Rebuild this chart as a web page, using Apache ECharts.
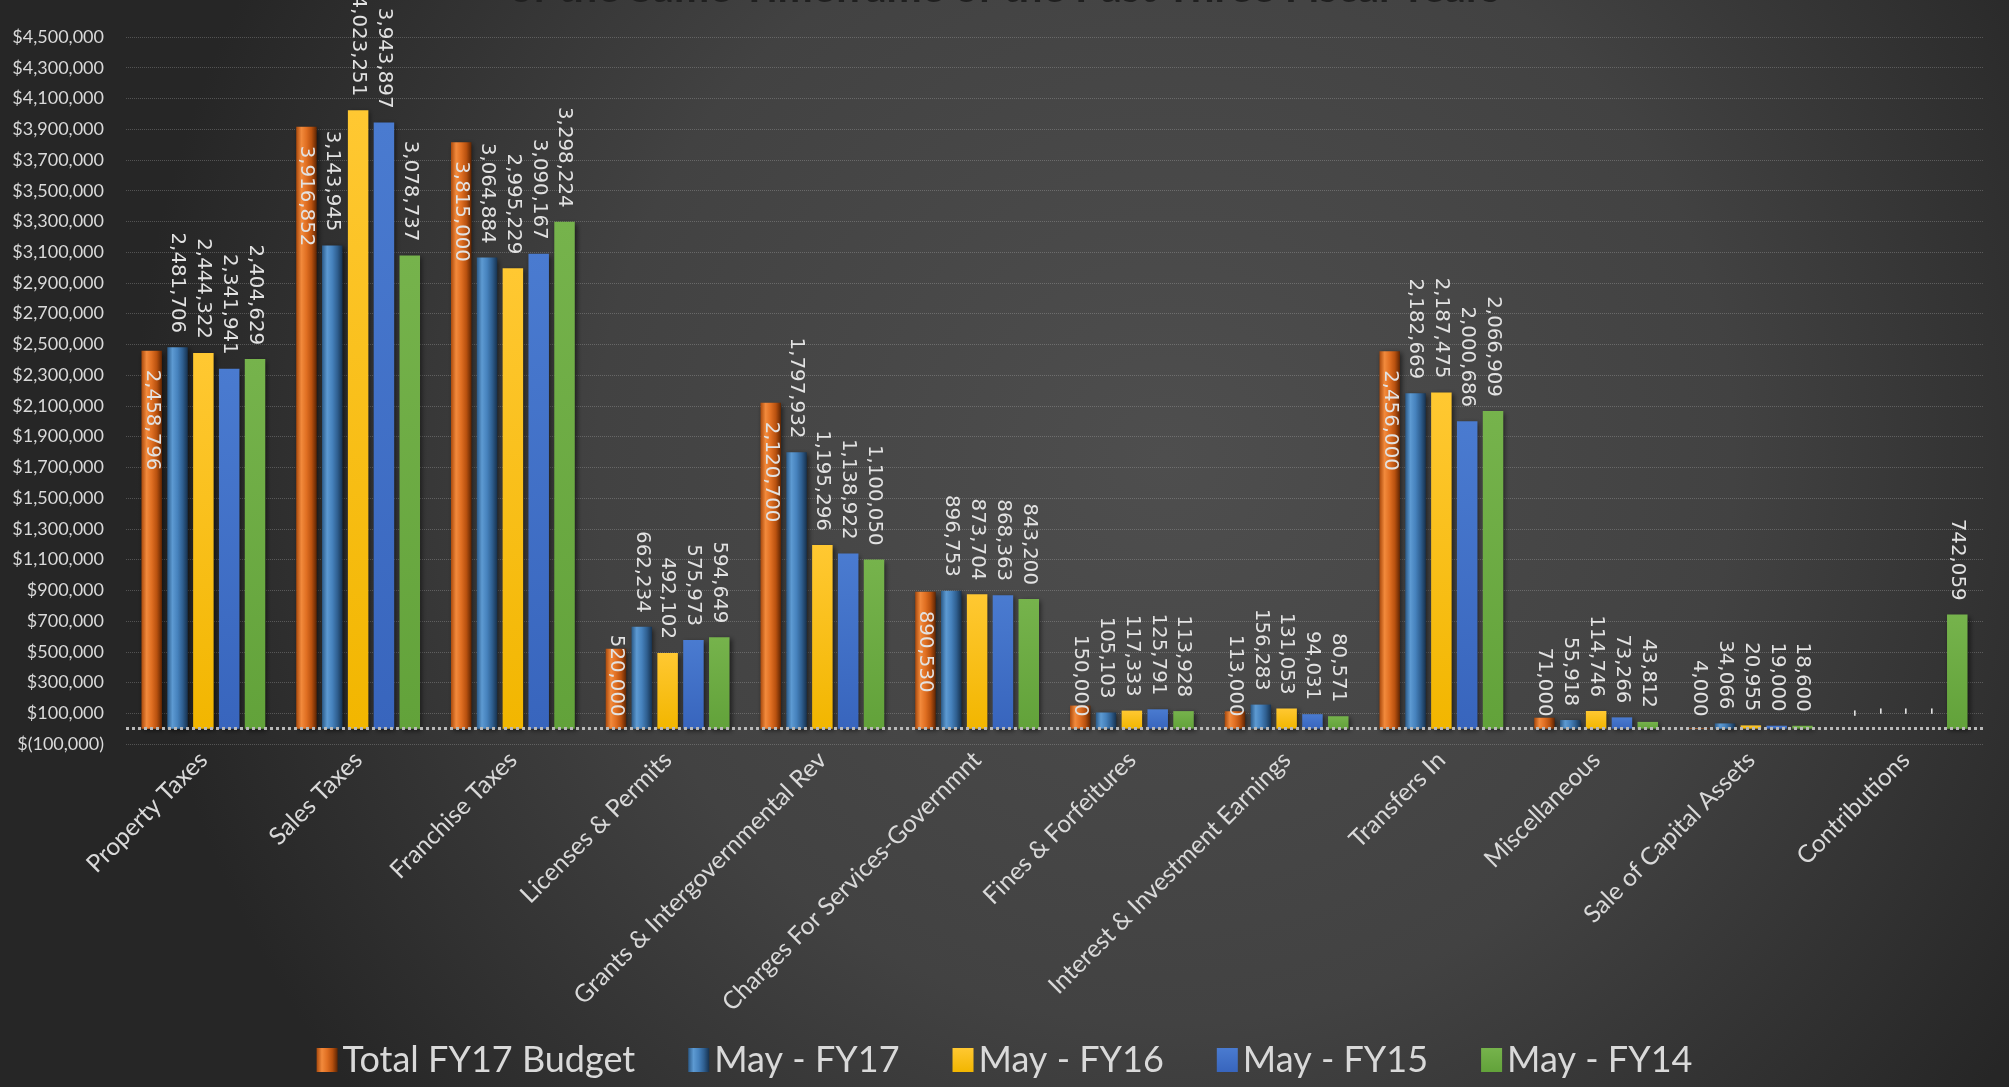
<!DOCTYPE html>
<html>
<head>
<meta charset="utf-8">
<script src="https://cdn.jsdelivr.net/npm/echarts@6/dist/echarts.min.js"></script>
<style>
html,body{margin:0;padding:0;width:2009px;height:1087px;overflow:hidden;background:#333;}
#chart{width:2009px;height:1087px;}
</style>
</head>
<body>
<div id="chart"></div>
<script>
const categories = ['Property Taxes','Sales Taxes','Franchise Taxes','Licenses & Permits','Grants & Intergovernmental Rev','Charges For Services-Governmnt','Fines & Forfeitures','Interest & Investment Earnings','Transfers In','Miscellaneous','Sale of Capital Assets','Contributions'];
const seriesNames = ['Total FY17 Budget','May - FY17','May - FY16','May - FY15','May - FY14'];
const budget = [2458796, 3916852, 3815000, 520000, 2120700, 890530, 150000, 113000, 2456000, 71000, 4000, 0];
const mayFY17 = [2481706, 3143945, 3064884, 662234, 1797932, 896753, 105103, 156283, 2182669, 55918, 34066, 0];
const mayFY16 = [2444322, 4023251, 2995229, 492102, 1195296, 873704, 117333, 131053, 2187475, 114746, 20955, 0];
const mayFY15 = [2341941, 3943897, 3090167, 575973, 1138922, 868363, 125791, 94031, 2000686, 73266, 19000, 0];
const mayFY14 = [2404629, 3078737, 3298224, 594649, 1100050, 843200, 113928, 80571, 2066909, 43812, 18600, 742059];
const yMin = -100000, yMax = 4500000, yStep = 200000;
const titleText = 'of the Same Timeframe of the Past Three Fiscal Years';

function fmtNum(v){ return Math.round(v).toString().replace(/\B(?=(\d{3})+(?!\d))/g, ','); }
function fmtAxis(v){ return v < 0 ? '$(' + fmtNum(-v) + ')' : '$' + fmtNum(v); }
function fmtLabel(p){ return p.value === 0 ? '-' : fmtNum(p.value); }

const labelFont = {fontFamily:'DejaVu Sans', fontSize:19.8, color:'#e2e2e2'};

function hGrad(stops){
  return {type:'linear', x:0, y:0, x2:1, y2:0, colorStops: stops.map((c,i)=>({offset:i/(stops.length-1), color:c}))};
}
function vGrad(a,b){
  return {type:'linear', x:0, y:0, x2:0, y2:1, colorStops:[{offset:0,color:a},{offset:1,color:b}]};
}
const colors = [
  hGrad(['#a9490c','#f28a3c','#e06f22','#b8510f','#5e2503']),
  hGrad(['#2b5a88','#5d9ad2','#4682bd','#2f5f90','#17324f']),
  vGrad('#ffc832','#f2b600'),
  vGrad('#4a7bd0','#3865bd'),
  vGrad('#76b34c','#62a23a')
];

const shadow = {shadowBlur:5, shadowColor:'rgba(0,0,0,0.55)', shadowOffsetX:2, shadowOffsetY:2};

function topLabel(){
  return Object.assign({show:true, position:'top', rotate:-90, align:'right', verticalAlign:'middle', distance:14, formatter:fmtLabel}, labelFont);
}

const budgetData = budget.map(v => ({
  value: v,
  label: v < 700000
    ? {position:'insideBottom', align:'right', verticalAlign:'middle', distance:12}
    : {position:'insideTop', align:'left', verticalAlign:'middle', distance:19}
}));

const dataSets = [budgetData, mayFY17, mayFY16, mayFY15, mayFY14];

const series = dataSets.map((d, i) => {
  const s = {
    name: seriesNames[i],
    type: 'bar',
    data: d,
    barGap: '26%',
    barCategoryGap: '20%',
    itemStyle: Object.assign({color: colors[i]}, shadow),
    label: i === 0
      ? Object.assign({show:true, rotate:-90, formatter:fmtLabel}, labelFont)
      : topLabel()
  };
  if (i === 4) {
    s.markLine = {
      silent: true,
      symbol: ['none','none'],
      label: {show:false},
      lineStyle: {color:'#b8b8b8', width:3, type:'dotted'},
      data: [{yAxis: 0}],
      animation: false
    };
  }
  return s;
});

const chart = echarts.init(document.getElementById('chart'), null, {renderer:'canvas'});
chart.setOption({
  animation: false,
  backgroundColor: {
    type:'radial', x:0.58, y:0.42, r:0.95,
    colorStops:[{offset:0,color:'#4e4e4e'},{offset:0.55,color:'#424242'},{offset:1,color:'#262626'}]
  },
  title: {
    text: titleText,
    left: 'center',
    top: -38,
    textStyle: {fontFamily:'Lato', fontWeight:'bold', fontSize:42, color:'#1f1f1f'}
  },
  grid: {left:126, right:26, top:37, bottom:343, containLabel:false},
  legend: {
    data: seriesNames,
    bottom: 4,
    left: 'center',
    itemWidth: 21,
    itemHeight: 24,
    itemGap: 53,
    icon: 'rect',
    textStyle: {fontFamily:'Lato', fontSize:36, color:'#d9d9d9'}
  },
  xAxis: {
    type: 'category',
    data: categories,
    axisLine: {show:false, onZero:false},
    axisTick: {show:false},
    axisLabel: {interval:0, rotate:45, margin:12, fontFamily:'Lato', fontSize:24.5, color:'#d9d9d9'},
    splitLine: {show:false}
  },
  yAxis: {
    type: 'value',
    min: yMin,
    max: yMax,
    interval: yStep,
    axisLine: {show:false},
    axisTick: {show:false},
    axisLabel: {formatter: fmtAxis, margin:22, fontFamily:'Lato', fontSize:18, color:'#d9d9d9'},
    splitLine: {show:true, lineStyle:{color:'rgba(200,200,200,0.28)', width:1, type:'dotted'}}
  },
  series: series
});
</script>
</body>
</html>
